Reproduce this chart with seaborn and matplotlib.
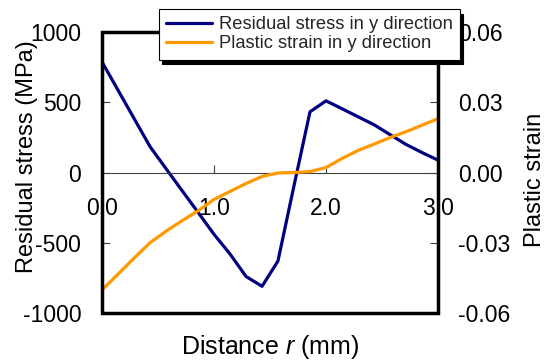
import numpy as np
import pandas as pd
import matplotlib
matplotlib.use("Agg")
import matplotlib.pyplot as plt
from matplotlib.patches import Rectangle
from matplotlib.ticker import FormatStrFormatter
import seaborn as sns

# ---- data ----
distance = [0.0, 0.143, 0.286, 0.429, 0.571, 0.714, 0.857, 1.0, 1.143, 1.286, 1.429,
            1.571, 1.714, 1.857, 2.0, 2.143, 2.286, 2.429, 2.571, 2.714, 2.857, 3.0]
stress = [787, 586, 385, 184, 28, -128, -283, -440, -580, -740, -810,
          -630, -95, 432, 510, 454, 397, 340, 270, 200, 142, 88]
strain = [-0.0502, -0.0434, -0.0366, -0.0300, -0.0251, -0.0206, -0.0164, -0.0115,
          -0.0081, -0.0047, -0.0017, -0.0002, 0.0, 0.0004, 0.0021, 0.0060, 0.0094,
          0.0121, 0.0149, 0.0174, 0.0202, 0.0230]
stress_label = "Residual stress in y direction"
strain_label = "Plastic strain in y direction"
x_ticks = [0.0, 1.0, 2.0, 3.0]
y1_ticks = [-1000, -500, 0, 500, 1000]
y2_ticks = [-0.06, -0.03, 0.0, 0.03, 0.06]

df = pd.DataFrame({"distance": distance, "stress": stress, "strain": strain})

sns.set_theme(style="white")
plt.rcParams["font.family"] = ["Liberation Sans", "DejaVu Sans"]
plt.rcParams["mathtext.fontset"] = "custom"
plt.rcParams["mathtext.rm"] = "Liberation Sans"
plt.rcParams["mathtext.it"] = "Liberation Sans:italic"
plt.rcParams["axes.unicode_minus"] = False

W, H = 551, 363
fig = plt.figure(figsize=(W / 100, H / 100), dpi=100)
L, R, T, B = 102, 438, 32, 313
ax = fig.add_axes([L / W, 1 - B / H, (R - L) / W, (B - T) / H])
ax2 = ax.twinx()

blue = "#000080"
orange = "#FF9900"
sns.lineplot(data=df, x="distance", y="stress", ax=ax, color=blue, lw=2.3,
             label=stress_label, legend=False)
sns.lineplot(data=df, x="distance", y="strain", ax=ax2, color=orange, lw=2.3,
             label=strain_label, legend=False)

ax.set_xlim(0, 3)
ax.set_ylim(-1000, 1000)
ax2.set_ylim(-0.06, 0.06)
ax.set_xticks(x_ticks)
ax.xaxis.set_major_formatter(FormatStrFormatter("%.1f"))
ax.set_yticks(y1_ticks)
ax2.set_yticks(y2_ticks)
ax2.yaxis.set_major_formatter(FormatStrFormatter("%.2f"))

for s in ["left", "right", "top"]:
    ax.spines[s].set_visible(False)
for s in ["left", "right", "top", "bottom"]:
    ax2.spines[s].set_visible(False)
ax.spines["bottom"].set_position(("data", 0))
ax.spines["bottom"].set_linewidth(0.8)
ax.spines["bottom"].set_color("#404040")

tick_fs = 16.5
ax.tick_params(axis="x", direction="in", length=6, width=0.8, color="#404040",
               pad=17.5, labelsize=tick_fs, labelcolor="black", bottom=True)
ax.tick_params(axis="y", direction="in", length=6, width=0.8, color="#404040",
               pad=15, labelsize=tick_fs, labelcolor="black", left=True)
ax2.tick_params(axis="y", direction="in", length=6, width=0.8, color="#404040",
                pad=14.4, labelsize=tick_fs, labelcolor="black", right=True)

ax.set_xlabel("Distance $r$ (mm)", fontsize=18, color="black")
ax.xaxis.set_label_coords(0.5, -0.07)
ax.set_ylabel("Residual stress (MPa)", fontsize=17, color="black")
ax.yaxis.set_label_coords(-0.19, 0.555)
ax2.set_ylabel("Plastic strain", fontsize=17, color="black")
ax2.yaxis.set_label_coords(1.255, 0.473)

ax2.add_patch(Rectangle((0, 0), 1, 1, transform=ax.transAxes, fill=False,
                        ec="black", lw=2.5, clip_on=False, zorder=5))

h1, l1 = ax.get_legend_handles_labels()
h2, l2 = ax2.get_legend_handles_labels()
leg = fig.legend(h1 + h2, l1 + l2, loc="upper left",
                 bbox_to_anchor=(159 / W, 1 - 9 / H), borderaxespad=0,
                 fontsize=13.2, frameon=True, fancybox=False,
                 shadow={"color": "black", "alpha": 1, "ox": 2.5, "oy": -3.5},
                 handlelength=2.5, handletextpad=0.35, borderpad=0.4,
                 labelspacing=0.1)
leg.get_frame().set_edgecolor("black")
leg.get_frame().set_linewidth(0.8)
leg.get_frame().set_alpha(1)
for line in leg.get_lines():
    line.set_linewidth(2.3)

fig.savefig("out.png", dpi=100)
